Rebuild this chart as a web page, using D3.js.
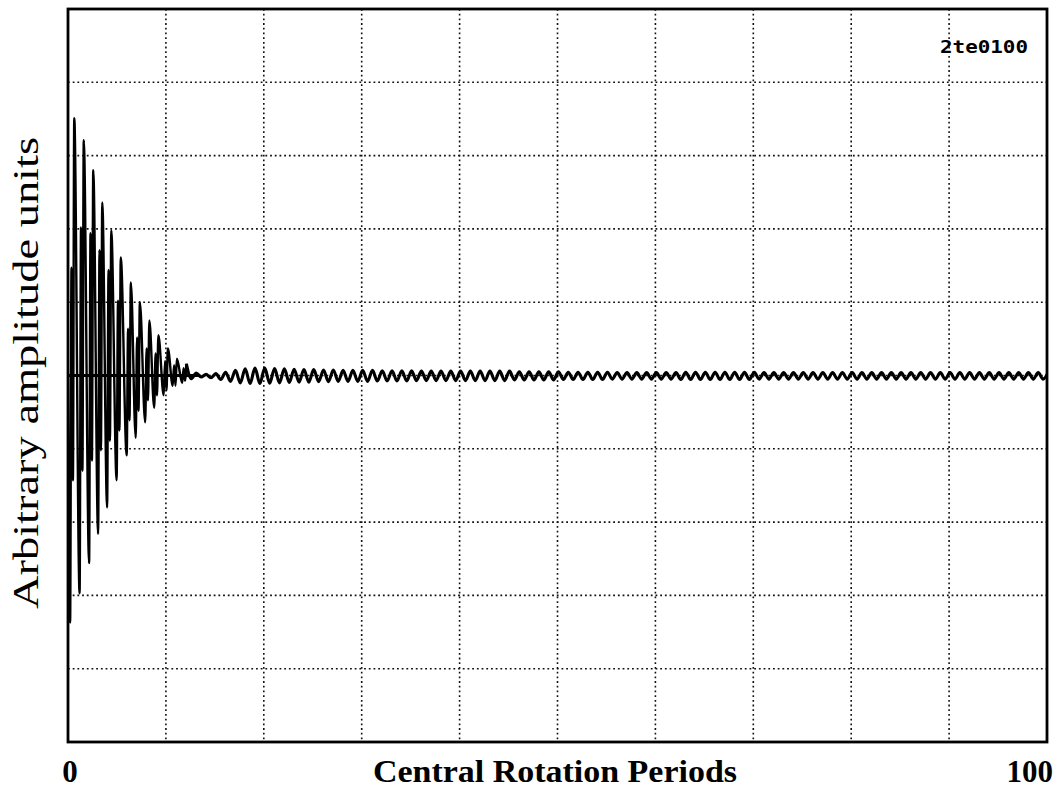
<!DOCTYPE html>
<html>
<head>
<meta charset="utf-8">
<script src="https://cdn.jsdelivr.net/npm/d3@7"></script>
<style>
  body { margin: 0; background: #fff; }
  svg { display: block; }
</style>
</head>
<body>
<script>
// axis ends and labels
const xDomain = [0, 100]
const yDomain = [-5, 5]
const xEndLabels = ['0', '100']
const xTitle = 'Central Rotation Periods'
const yTitle = 'Arbitrary amplitude units'
const runTag = '2te0100'

// first burst: one entry per cycle (x = cycle centre)
const burstCentre   = [0.46, 1.43, 2.40, 3.32, 4.24, 5.21, 6.24, 7.16, 8.13, 9.05, 10.02, 10.94, 11.91]
const burstTrough   = [-3.37, -2.97, -2.56, -2.16, -1.80, -1.43, -1.09, -0.85, -0.64, -0.44, -0.27, -0.14, -0.10]
const burstShoulder = [1.47, 2.02, 1.94, 1.71, 1.44, 1.02, 0.64, 0.52, 0.37, 0.30, 0.20, 0.14, 0.10]
const burstDip      = [-1.43, -1.30, -1.16, -1.02, -0.89, -0.75, -0.61, -0.48, -0.34, -0.27, -0.20, -0.14, -0.07]
const burstPeak     = [3.51, 3.21, 2.80, 2.36, 1.98, 1.61, 1.27, 1.00, 0.75, 0.55, 0.37, 0.23, 0.16]

// long tail after the beat, one cycle per rotation period starting at 12.6
const tailStart = 12.6
const tailPeak = [
  0.035, 0.015, 0.025, 0.045, 0.07, 0.09, 0.10, 0.10, 0.095, 0.09,
  0.085, 0.08, 0.08, 0.075, 0.075, 0.07, 0.07, 0.07, 0.07, 0.065,
  0.065, 0.065, 0.065, 0.06, 0.06, 0.06, 0.06, 0.06, 0.06, 0.06,
  0.06, 0.06, 0.06, 0.05, 0.05, 0.05, 0.05, 0.05, 0.045, 0.045,
  0.045, 0.045, 0.045, 0.04, 0.04, 0.04, 0.04, 0.04, 0.04, 0.04,
  0.045, 0.045, 0.045, 0.045, 0.045, 0.045, 0.045, 0.045, 0.04, 0.04,
  0.04, 0.04, 0.04, 0.04, 0.04, 0.04, 0.04, 0.04, 0.04, 0.04,
  0.04, 0.04, 0.04, 0.04, 0.04, 0.04, 0.04, 0.04, 0.04, 0.04,
  0.04, 0.04, 0.04, 0.04, 0.04, 0.04, 0.04, 0.04
]
const tailTrough = [
  -0.045, -0.02, -0.03, -0.055, -0.08, -0.10, -0.11, -0.11, -0.105, -0.10,
  -0.095, -0.09, -0.09, -0.085, -0.085, -0.08, -0.08, -0.08, -0.08, -0.075,
  -0.075, -0.075, -0.075, -0.07, -0.07, -0.07, -0.07, -0.07, -0.07, -0.07,
  -0.07, -0.07, -0.07, -0.06, -0.06, -0.06, -0.06, -0.06, -0.055, -0.055,
  -0.055, -0.055, -0.055, -0.05, -0.05, -0.05, -0.05, -0.05, -0.05, -0.05,
  -0.055, -0.055, -0.055, -0.055, -0.055, -0.055, -0.055, -0.055, -0.05, -0.05,
  -0.05, -0.05, -0.05, -0.05, -0.05, -0.05, -0.05, -0.05, -0.05, -0.05,
  -0.05, -0.05, -0.05, -0.05, -0.05, -0.05, -0.05, -0.05, -0.05, -0.05,
  -0.05, -0.05, -0.05, -0.05, -0.05, -0.05, -0.05, -0.05
]

const W = 1062
const H = 794
const m = { left: 68, right: 15, top: 9, bottom: 52 }

const svg = d3.select('body')
    .append('svg')
    .attr('width', W)
    .attr('height', H)

svg.append('rect').attr('width', W).attr('height', H).attr('fill', '#fff')

const x = d3.scaleLinear()
    .domain(xDomain)
    .range([m.left, W - m.right])

const y = d3.scaleLinear()
    .domain(yDomain)
    .range([H - m.bottom, m.top])

// dotted grid
const dots = '1.8,2.9'
svg.append('g')
    .selectAll('line')
    .data(x.ticks(10).slice(1, -1))
    .enter()
    .append('line')
    .attr('x1', d => x(d)).attr('x2', d => x(d))
    .attr('y1', y(yDomain[1])).attr('y2', y(yDomain[0]))
    .attr('stroke', '#111')
    .attr('stroke-width', 1.6)
    .attr('stroke-dasharray', dots)

svg.append('g')
    .selectAll('line')
    .data(y.ticks(10).slice(1, -1))
    .enter()
    .append('line')
    .attr('y1', d => y(d)).attr('y2', d => y(d))
    .attr('x1', x(xDomain[0])).attr('x2', x(xDomain[1]))
    .attr('stroke', '#111')
    .attr('stroke-width', 1.6)
    .attr('stroke-dasharray', dots)

// build the trace from the read extrema
const phase = [-0.245, -0.10, 0.04, 0.18]
const burst = [[0, 0]]
burstCentre.forEach((c, i) => {
    burst.push([c + phase[0], burstTrough[i]])
    burst.push([c + phase[1], burstShoulder[i]])
    burst.push([c + phase[2], burstDip[i]])
    burst.push([c + phase[3], burstPeak[i]])
})
const tail = [burst[burst.length - 1]]
tailPeak.forEach((p, k) => {
    tail.push([tailStart + k, tailTrough[k]])
    tail.push([tailStart + k + 0.5, p])
})

svg.append('clipPath')
    .attr('id', 'plot')
    .append('rect')
    .attr('x', x(0)).attr('y', y(5))
    .attr('width', x(100) - x(0)).attr('height', y(-5) - y(5))

// zero line under the burst
svg.append('line')
    .attr('x1', x(0)).attr('x2', x(13.4))
    .attr('y1', y(0)).attr('y2', y(0))
    .attr('stroke', '#000')
    .attr('stroke-width', 2.8)

const line = d3.line()
    .x(d => x(d[0]))
    .y(d => y(d[1]))
    .curve(d3.curveMonotoneX)

svg.append('path')
    .datum(burst)
    .attr('clip-path', 'url(#plot)')
    .attr('d', line)
    .attr('fill', 'none')
    .attr('stroke', '#000')
    .attr('stroke-width', 2.4)
    .attr('stroke-linejoin', 'round')

svg.append('path')
    .datum(tail)
    .attr('clip-path', 'url(#plot)')
    .attr('d', line)
    .attr('fill', 'none')
    .attr('stroke', '#000')
    .attr('stroke-width', 3.1)
    .attr('stroke-linejoin', 'round')

// frame
svg.append('rect')
    .attr('x', x(0)).attr('y', y(5))
    .attr('width', x(100) - x(0)).attr('height', y(-5) - y(5))
    .attr('fill', 'none')
    .attr('stroke', '#000')
    .attr('stroke-width', 2.8)

// texts
const serif = '"Liberation Serif", "Times New Roman", serif'

svg.append('text')
    .attr('x', x(xDomain[0]) + 2)
    .attr('y', 782)
    .attr('text-anchor', 'middle')
    .attr('font-family', serif)
    .attr('font-weight', 'bold')
    .attr('font-size', 31)
    .text(xEndLabels[0])

svg.append('text')
    .attr('x', x(xDomain[1]) + 6)
    .attr('y', 782)
    .attr('text-anchor', 'end')
    .attr('font-family', serif)
    .attr('font-weight', 'bold')
    .attr('font-size', 31)
    .text(xEndLabels[1])

svg.append('text')
    .attr('x', 555)
    .attr('y', 782)
    .attr('text-anchor', 'middle')
    .attr('font-family', serif)
    .attr('font-weight', 'bold')
    .attr('font-size', 31)
    .attr('textLength', 364)
    .attr('lengthAdjust', 'spacingAndGlyphs')
    .text(xTitle)

svg.append('text')
    .attr('transform', 'translate(38,373) rotate(-90)')
    .attr('text-anchor', 'middle')
    .attr('font-family', serif)
    .attr('font-size', 36)
    .attr('textLength', 472)
    .attr('lengthAdjust', 'spacingAndGlyphs')
    .text(yTitle)

svg.append('text')
    .attr('x', 940)
    .attr('y', 53)
    .attr('font-family', '"DejaVu Sans Mono", "Liberation Mono", monospace')
    .attr('font-weight', 'bold')
    .attr('font-size', 17)
    .attr('textLength', 88)
    .attr('lengthAdjust', 'spacingAndGlyphs')
    .text(runTag)
</script>
</body>
</html>
